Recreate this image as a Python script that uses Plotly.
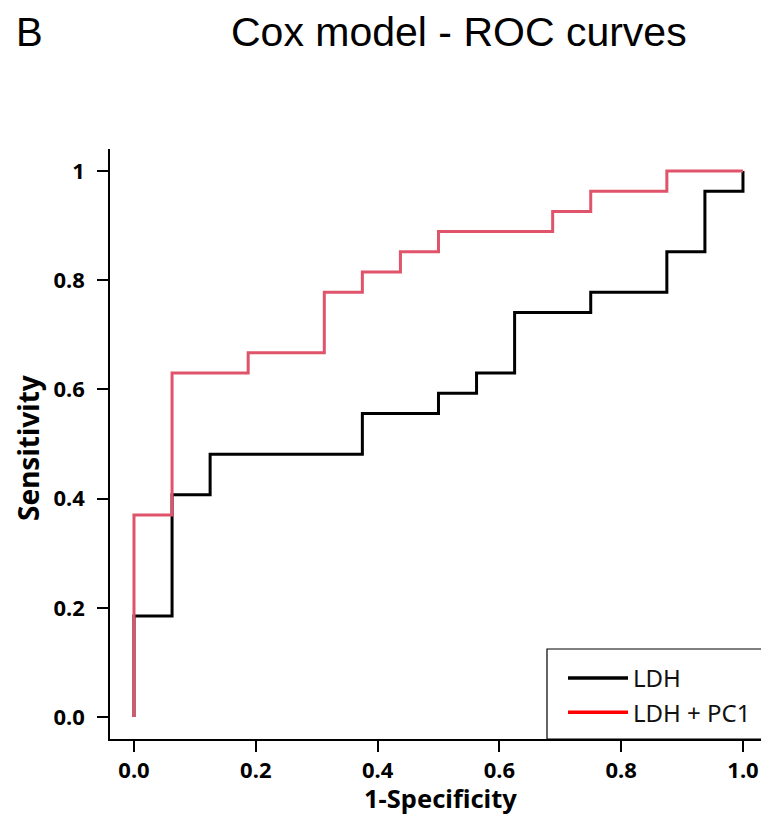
import plotly.graph_objects as go

# ROC curve data (1-Specificity, Sensitivity)
ldh_fpr = [0.0, 0.0, 0.0625, 0.125, 0.375, 0.5, 0.5625, 0.625, 0.75, 0.875, 0.9375, 1.0]
ldh_tpr = [0.0, 0.185, 0.407, 0.481, 0.556, 0.593, 0.630, 0.741, 0.778, 0.852, 0.963, 1.0]

pc1_fpr = [0.0, 0.0, 0.0625, 0.1875, 0.3125, 0.375, 0.4375, 0.5, 0.6875, 0.75, 0.875, 1.0]
pc1_tpr = [0.0, 0.370, 0.630, 0.667, 0.778, 0.815, 0.852, 0.889, 0.926, 0.963, 1.0, 1.0]

series_names = ["LDH", "LDH + PC1"]
curve_colors = ["#000000", "#DF536B"]
legend_colors = ["#000000", "#FF0000"]

x_ticks = [0.0, 0.2, 0.4, 0.6, 0.8, 1.0]
x_tick_labels = ["0.0", "0.2", "0.4", "0.6", "0.8", "1.0"]
y_ticks = [0.0, 0.2, 0.4, 0.6, 0.8, 1.0]
y_tick_labels = ["0.0", "0.2", "0.4", "0.6", "0.8", "1"]

TICK_FONT = "Noto Sans, Open Sans, sans-serif"

fig = go.Figure()
for xs, ys, name, col in [(ldh_fpr, ldh_tpr, series_names[0], curve_colors[0]),
                          (pc1_fpr, pc1_tpr, series_names[1], curve_colors[1])]:
    fig.add_trace(go.Scatter(x=xs, y=ys, mode="lines", line=dict(color=col, width=3, shape="hv"),
                             name=name, showlegend=False, hoverinfo="skip"))
# legend entries
for name, col in zip(series_names, legend_colors):
    fig.add_trace(go.Scatter(x=[None], y=[None], mode="lines", line=dict(color=col, width=3.5),
                             name=name, showlegend=True))

W, H = 761, 815
ml, mr, mt, mb = 110, 0, 149, 76
PW, PH = W - ml - mr, H - mt - mb

fig.update_layout(
    width=W, height=H,
    margin=dict(l=ml, r=mr, t=mt, b=mb, pad=0),
    paper_bgcolor="white", plot_bgcolor="white",
    showlegend=True,
    legend=dict(x=(563 - ml) / PW, y=(739 - 656) / PH,
                xanchor="left", yanchor="top",
                bgcolor="rgba(0,0,0,0)", borderwidth=0,
                font=dict(family=TICK_FONT, size=24, color="#111111"),
                tracegroupgap=0, itemwidth=60),
    annotations=[
        dict(text="B", xref="paper", yref="paper", x=(14 - ml) / PW,
             y=1 + (mt - 32) / PH, xanchor="left", yanchor="middle", showarrow=False,
             font=dict(family="Liberation Sans, Arial, sans-serif", size=40, color="black")),
        dict(text="Cox model - ROC curves", xref="paper", yref="paper",
             x=(459 - ml) / PW, y=1 + (mt - 32) / PH,
             xanchor="center", yanchor="middle", showarrow=False,
             font=dict(family="Liberation Sans, Arial, sans-serif", size=41, color="black")),
        dict(text="<b>1-Specificity</b>", xref="paper", yref="paper",
             x=(441 - ml) / PW, y=(739 - 798) / PH, borderpad=0,
             xanchor="center", yanchor="middle", showarrow=False,
             font=dict(family=TICK_FONT, size=25.5, color="black")),
        dict(text="<b>Sensitivity</b>", xref="paper", yref="paper",
             x=(28 - ml) / PW, y=(739 - 448) / PH, textangle=-90,
             xanchor="center", yanchor="middle", showarrow=False,
             font=dict(family=TICK_FONT, size=28, color="black")),
    ],
    shapes=[
        dict(type="rect", xref="paper", yref="paper",
             x0=(547 - ml) / PW, x1=1.2, y0=0, y1=(739 - 649) / PH,
             line=dict(color="black", width=1.2), fillcolor="white", layer="above"),
    ],
)

fig.update_xaxes(
    range=[-0.0394, 1.0296], tickvals=x_ticks, ticktext=x_tick_labels,
    showline=True, linecolor="black", linewidth=1.5, mirror=False,
    ticks="outside", ticklen=11, tickwidth=1.5, tickcolor="black",
    showgrid=False, zeroline=False,
    tickfont=dict(family=TICK_FONT, size=22, color="black", weight="bold"),
    ticklabelstandoff=0,
)
fig.update_yaxes(
    range=[-0.0403, 1.0403], tickvals=y_ticks, ticktext=y_tick_labels,
    showline=True, linecolor="black", linewidth=1.5, mirror=False,
    ticks="outside", ticklen=11, tickwidth=1.5, tickcolor="black",
    showgrid=False, zeroline=False,
    tickfont=dict(family=TICK_FONT, size=22, color="black", weight="bold"),
    ticklabelstandoff=8,
)

fig.write_html("out.html", config={"displayModeBar": False},
               post_script="document.body.style.margin='0px';")
